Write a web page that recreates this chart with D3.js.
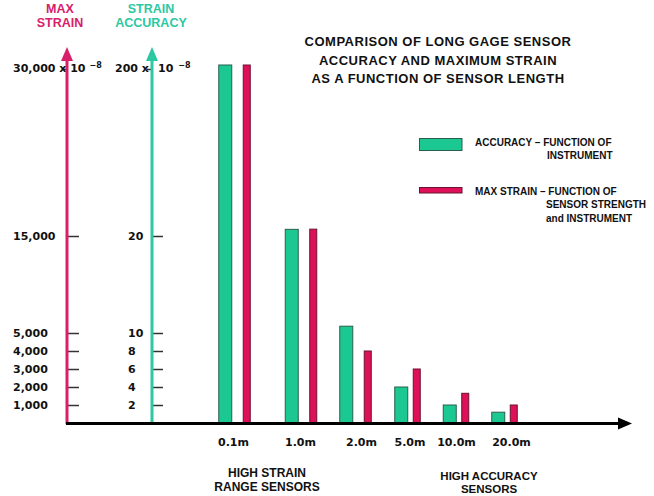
<!DOCTYPE html>
<html>
<head>
<meta charset="utf-8">
<script src="https://cdn.jsdelivr.net/npm/d3@7"></script>
<style>
  html, body { margin: 0; padding: 0; background: #fff; }
  svg { display: block; }
</style>
</head>
<body>
<svg id="chart" width="654" height="496"></svg>
<script>
// ---------------- DATA ----------------
const categories = ["0.1m", "1.0m", "2.0m", "5.0m", "10.0m", "20.0m"];
const accuracy   = [200, 27, 10.7, 4, 2, 1.2];          // strain accuracy (x 10^-6)
const maxStrain  = [30000, 15600, 4000, 3000, 1650, 1000]; // max strain (x 10^-6)
const strainTicks   = [1000, 2000, 3000, 4000, 5000, 15000, 30000];
const accuracyTicks = [2, 4, 6, 8, 10, 20, 200];
const titleLines = ["COMPARISON OF LONG GAGE SENSOR", "ACCURACY AND MAXIMUM STRAIN", "AS A FUNCTION OF SENSOR LENGTH"];
const legendAccuracy = ["ACCURACY \u2013 FUNCTION OF", "INSTRUMENT"];
const legendStrain = ["MAX STRAIN \u2013 FUNCTION OF", "SENSOR STRENGTH", "and INSTRUMENT"];
const groupNotesLeft = ["HIGH STRAIN", "RANGE SENSORS"];
const groupNotesRight = ["HIGH ACCURACY", "SENSORS"];

// ---------------- STYLE / LAYOUT ----------------
const GREEN = "#1cc892", GREEN_EDGE = "#2c5e4c";
const RED = "#de1058", RED_EDGE = "#6a1232";
const MAGENTA = "#d8206a", TEAL = "#2cc8a2";
const VERD = "'DejaVu Sans', Verdana, sans-serif";
const ARIAL = "'Liberation Sans', Arial, Helvetica, sans-serif";

const svg = d3.select("#chart");
const baseY = 423, topY = 65;
const strainAxisX = 67, accAxisX = 152;

// broken (piecewise) vertical scales, as in the original drawing
const yStrain = d3.scaleLinear().domain([0, 5000, 15000, 30000]).range([baseY, 333, 236, topY]);
const yAcc    = d3.scaleLinear().domain([0, 10, 20, 200]).range([baseY, 333, 236, topY]);

// uneven group placement of the original
const xGroup = d3.scaleOrdinal().domain(categories).range([234.5, 301, 355.5, 407.5, 456, 504.5]);
const xLabel = d3.scaleOrdinal().domain(categories).range([233.5, 300.5, 361.5, 410, 456.5, 511.5]);
const pairGap = d3.scaleOrdinal().domain(categories).range([11.5, 11.5, 11.5, 5.5, 5.5, 5.5]);
const greenW = 13, redW = 7;

const rows = categories.map((c, i) => ({ c, acc: accuracy[i], str: maxStrain[i] }));
const groupLeft = d => xGroup(d.c) - (greenW + pairGap(d.c) + redW) / 2;

// ---------------- TITLE ----------------
svg.append("g").selectAll("text").data(titleLines).join("text")
  .attr("x", 438).attr("y", (d, i) => 46 + i * 18.7)
  .attr("text-anchor", "middle")
  .style("font-family", ARIAL).style("font-weight", "bold")
  .style("font-size", "13px").style("letter-spacing", "0.5px")
  .attr("fill", "#111").text(d => d);

// ---------------- AXIS TITLES ----------------
svg.append("g").selectAll("text").data(["MAX", "STRAIN"]).join("text")
  .attr("x", 60).attr("y", (d, i) => 12.7 + i * 14.6)
  .attr("text-anchor", "middle").attr("fill", MAGENTA)
  .style("font-family", ARIAL).style("font-weight", "bold").style("font-size", "12.5px")
  .text(d => d);
svg.append("g").selectAll("text").data(["STRAIN", "ACCURACY"]).join("text")
  .attr("x", 151).attr("y", (d, i) => 12.7 + i * 14.6)
  .attr("text-anchor", "middle").attr("fill", TEAL)
  .style("font-family", ARIAL).style("font-weight", "bold").style("font-size", "12.5px")
  .text(d => d);

// ---------------- BARS ----------------
const bars = svg.append("g");
bars.selectAll("rect.acc").data(rows).join("rect").attr("class", "acc")
  .attr("x", d => groupLeft(d))
  .attr("y", d => yAcc(d.acc))
  .attr("width", greenW)
  .attr("height", d => baseY - yAcc(d.acc))
  .attr("fill", GREEN).attr("stroke", GREEN_EDGE).attr("stroke-width", 1);
bars.selectAll("rect.str").data(rows).join("rect").attr("class", "str")
  .attr("x", d => groupLeft(d) + greenW + pairGap(d.c))
  .attr("y", d => yStrain(d.str))
  .attr("width", redW)
  .attr("height", d => baseY - yStrain(d.str))
  .attr("fill", RED).attr("stroke", RED_EDGE).attr("stroke-width", 1);

// ---------------- VERTICAL AXES ----------------
function styleAxis(g, labelX, topLabel) {
  g.select(".domain").remove();
  g.selectAll(".tick line").attr("stroke", "#333").attr("stroke-width", 1.5);
  g.selectAll(".tick text")
    .attr("x", labelX).attr("dy", "0.28em")
    .attr("text-anchor", "start").attr("fill", "#111")
    .style("font-family", VERD).style("font-weight", "bold").style("font-size", "11px");
  // top tick: short mark to the left, label with exponent
  const top = g.selectAll(".tick").filter((d, i, n) => i === n.length - 1);
  top.select("line").attr("x2", -5).attr("y1", 4).attr("y2", 4);
  top.select("text").attr("dy", "0.62em").call(topLabel);
}

const strainAxis = svg.append("g").attr("transform", `translate(${strainAxisX},0)`)
  .call(d3.axisRight(yStrain).tickValues(strainTicks).tickSize(12).tickFormat(d3.format(",")));
styleAxis(strainAxis, 13 - strainAxisX, t => {
  t.text("30,000 x 10");
  t.append("tspan").attr("dx", 4).attr("dy", -4).style("font-size", "8px").text("\u22128");
});

const accAxis = svg.append("g").attr("transform", `translate(${accAxisX},0)`)
  .call(d3.axisRight(yAcc).tickValues(accuracyTicks).tickSize(11).tickFormat(d3.format("d")));
styleAxis(accAxis, 128 - accAxisX, t => {
  t.attr("x", 115 - accAxisX).text("200 x");
  t.append("tspan").attr("x", 158 - accAxisX).text("10");
  t.append("tspan").attr("dx", 5).attr("dy", -4).style("font-size", "8px").text("\u22128");
});

// axis lines with arrowheads
function vArrow(x, color) {
  const g = svg.append("g");
  g.append("line").attr("x1", x).attr("x2", x).attr("y1", baseY + 1).attr("y2", 58)
    .attr("stroke", color).attr("stroke-width", 3);
  g.append("path").attr("d", `M${x},47 L${x - 6},61 L${x + 6},61 Z`).attr("fill", color);
}
vArrow(strainAxisX, MAGENTA);
vArrow(accAxisX, TEAL);

// horizontal axis
svg.append("line").attr("x1", strainAxisX - 1).attr("x2", 622).attr("y1", baseY + 0.5).attr("y2", baseY + 0.5)
  .attr("stroke", "#000").attr("stroke-width", 3);
svg.append("path").attr("d", `M632,${baseY + 0.5} L618,${baseY - 5.5} L618,${baseY + 6.5} Z`).attr("fill", "#000");

// category labels
svg.append("g").selectAll("text").data(categories).join("text")
  .attr("x", d => xLabel(d)).attr("y", 445.5)
  .attr("text-anchor", "middle").attr("fill", "#111")
  .style("font-family", VERD).style("font-weight", "bold").style("font-size", "11px")
  .text(d => d);

// group notes
svg.append("g").selectAll("text").data(groupNotesLeft).join("text")
  .attr("x", 267).attr("y", (d, i) => 476.5 + i * 14)
  .attr("text-anchor", "middle").attr("fill", "#111")
  .style("font-family", ARIAL).style("font-weight", "bold").style("font-size", "12px")
  .text(d => d);
svg.append("g").selectAll("text").data(groupNotesRight).join("text")
  .attr("x", 489).attr("y", (d, i) => 480 + i * 12.7)
  .attr("text-anchor", "middle").attr("fill", "#111")
  .style("font-family", ARIAL).style("font-weight", "bold").style("font-size", "11.5px")
  .text(d => d);

// ---------------- LEGEND ----------------
const lg = svg.append("g");
lg.append("rect").attr("x", 419.5).attr("y", 138.5).attr("width", 42.5).attr("height", 12)
  .attr("fill", GREEN).attr("stroke", GREEN_EDGE).attr("stroke-width", 1);
lg.append("rect").attr("x", 419.5).attr("y", 187.5).attr("width", 42.5).attr("height", 5.5)
  .attr("fill", RED).attr("stroke", RED_EDGE).attr("stroke-width", 1);
const legendFont = s => s.style("font-family", ARIAL).style("font-weight", "bold").style("font-size", "10px").attr("fill", "#111");
lg.selectAll("text.la").data(legendAccuracy).join("text").attr("class", "la")
  .attr("x", (d, i) => i === 0 ? 475 : 547).attr("y", (d, i) => 146 + i * 12.5)
  .call(legendFont).text(d => d);
lg.selectAll("text.ls").data(legendStrain).join("text").attr("class", "ls")
  .attr("x", (d, i) => i === 0 ? 475 : 546).attr("y", (d, i) => 195 + i * 13.3)
  .call(legendFont).text(d => d);
</script>
</body>
</html>
